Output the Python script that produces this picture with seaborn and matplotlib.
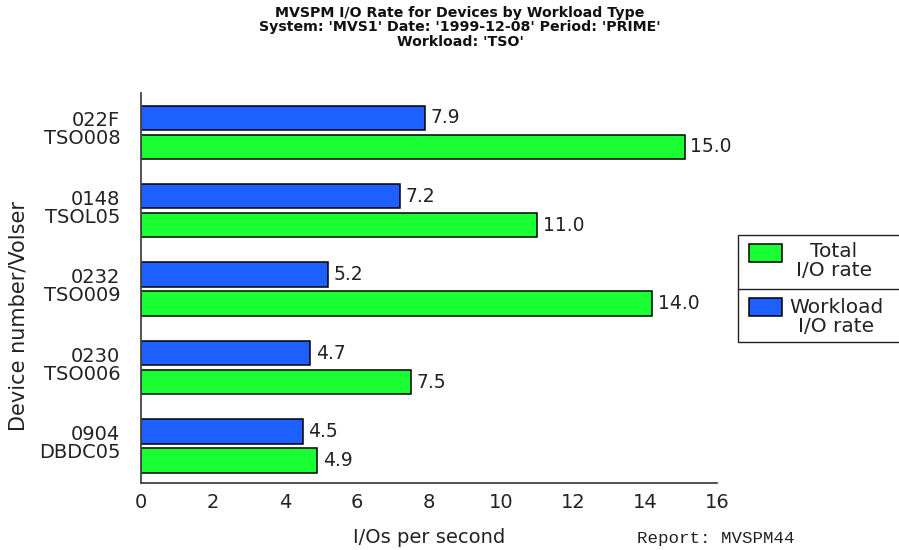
import matplotlib
matplotlib.use("Agg")
import matplotlib.pyplot as plt
import matplotlib.transforms as mtransforms
import seaborn as sns
import pandas as pd
from matplotlib.patches import Rectangle
from matplotlib.lines import Line2D

# ---- data ----
devices = ["022F\nTSO008", "0148\nTSOL05", "0232\nTSO009", "0230\nTSO006", "0904\nDBDC05"]
workload_rate = [7.9, 7.2, 5.2, 4.7, 4.5]
total_rate = [15.1, 11.0, 14.2, 7.5, 4.9]
workload_labels = ["7.9", "7.2", "5.2", "4.7", "4.5"]
total_labels = ["15.0", "11.0", "14.0", "7.5", "4.9"]
series_names = ["Workload I/O rate", "Total I/O rate"]
x_ticks = [0, 2, 4, 6, 8, 10, 12, 14, 16]
title_lines = ["MVSPM I/O Rate for Devices by Workload Type",
               "System: 'MVS1' Date: '1999-12-08' Period: 'PRIME'",
               "Workload: 'TSO'"]

df = pd.DataFrame({
    "device": devices * 2,
    "rate": workload_rate + total_rate,
    "series": [series_names[0]] * len(devices) + [series_names[1]] * len(devices),
})

BLUE = "#1e5fff"
GREEN = "#1aff33"
AX_COL = "#444444"
TXT = "#222222"

sns.set_theme(style="white")
plt.rcParams["font.family"] = ["DejaVu Sans"]

fig = plt.figure(figsize=(8.99, 5.5), dpi=100)
ax = fig.add_axes([141 / 899, 1 - 483 / 550, (717 - 141) / 899, (483 - 93) / 550])

sns.barplot(data=df, y="device", x="rate", hue="series", hue_order=series_names,
            palette=[BLUE, GREEN], orient="h", width=0.74, gap=0.16,
            edgecolor="black", linewidth=1.1, legend=False, ax=ax, saturation=1)

ax.bar_label(ax.containers[0], labels=workload_labels, padding=4, fontsize=13.5, color=TXT)
ax.bar_label(ax.containers[1], labels=total_labels, padding=4, fontsize=13.5, color=TXT)

ax.set_xlim(0, 16)
ax.set_ylim(4.47, -0.5)
ax.set_xticks(x_ticks)
ax.set_xticklabels([str(t) for t in x_ticks])
ax.tick_params(axis="x", direction="in", length=7, width=1, color=AX_COL, labelsize=14,
               pad=7, labelcolor=TXT)
ax.tick_params(axis="y", direction="out", length=7, width=1, color=AX_COL, labelsize=14,
               pad=8, labelcolor=TXT)
shift = mtransforms.ScaledTranslation(0, 4 / 100, fig.dpi_scale_trans)
for lbl in ax.get_yticklabels():
    lbl.set_multialignment("right")
    lbl.set_linespacing(0.95)
    lbl.set_transform(lbl.get_transform() + shift)

for s in ["top", "right"]:
    ax.spines[s].set_visible(False)
for s in ["left", "bottom"]:
    ax.spines[s].set_color(AX_COL)
    ax.spines[s].set_linewidth(1.3)

ax.set_xlabel("I/Os per second", fontsize=14, labelpad=12, color=TXT)
ax.set_ylabel("Device number/Volser", fontsize=15, color=TXT)
ax.yaxis.set_label_coords(-0.196, 0.428)

for i, line in enumerate(title_lines):
    fig.text(460 / 899, 1 - (13 + 14.5 * i) / 550, line, ha="center", va="center",
             fontsize=10.2, fontweight="heavy", color="#111111")

fig.text(637 / 899, 1 - 538 / 550, "Report: MVSPM44", family=["Liberation Mono", "DejaVu Sans Mono"],
         fontsize=12.6, ha="left", va="center", color=TXT)

# legend box
W, H = 899, 550
def fx(x): return x / W
def fy(y): return 1 - y / H
fig.add_artist(Rectangle((fx(738), fy(342)), fx(170), (342 - 235) / H, transform=fig.transFigure,
                         facecolor="white", edgecolor=TXT, linewidth=1.0, clip_on=False))
fig.add_artist(Line2D([fx(738), fx(905)], [fy(289), fy(289)], transform=fig.transFigure,
                      color=TXT, linewidth=1.0))
fig.add_artist(Rectangle((fx(749), fy(262)), fx(33), 18 / H, transform=fig.transFigure,
                         facecolor=GREEN, edgecolor="black", linewidth=1.1))
fig.add_artist(Rectangle((fx(749), fy(316)), fx(33), 18 / H, transform=fig.transFigure,
                         facecolor=BLUE, edgecolor="black", linewidth=1.1))
fig.text(fx(834), fy(261), "Total\nI/O rate", ha="center", va="center", fontsize=14.5,
         linespacing=0.95, multialignment="center", color=TXT)
fig.text(fx(836), fy(317), "Workload\nI/O rate", ha="center", va="center", fontsize=14.5,
         linespacing=0.95, multialignment="center", color=TXT)

fig.savefig("out.png", dpi=100)
